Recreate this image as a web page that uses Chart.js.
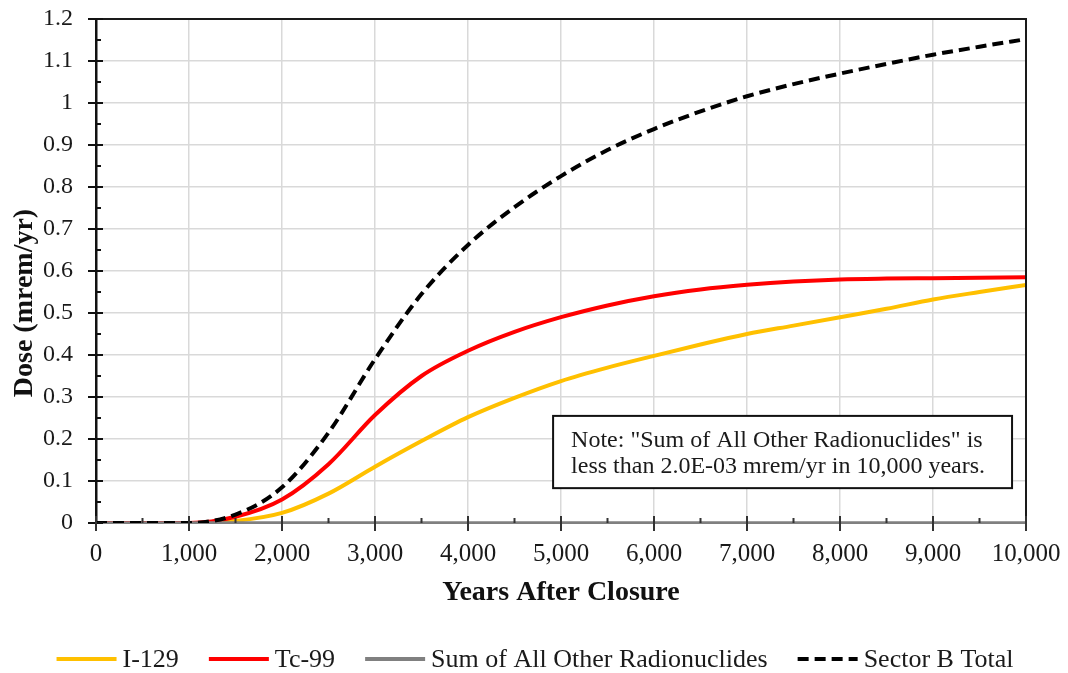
<!DOCTYPE html>
<html>
<head>
<meta charset="utf-8">
<script src="https://cdn.jsdelivr.net/npm/chart.js@4/dist/chart.umd.min.js"></script>
<style>
  html, body { margin: 0; padding: 0; background: #fff; }
</style>
</head>
<body>
<canvas id="chart" width="1068" height="673"></canvas>
<script>
// Years after closure (x values)
const years = [0, 500, 1000, 1500, 2000, 2500, 3000, 3500, 4000, 4500, 5000,
               5500, 6000, 6500, 7000, 7500, 8000, 8500, 9000, 9500, 10000];

// Dose (mrem/yr)
const i129 = [0, 0, 0, 0.005, 0.024, 0.07, 0.134, 0.195, 0.252, 0.298, 0.338,
              0.37, 0.398, 0.425, 0.45, 0.47, 0.49, 0.51, 0.532, 0.55, 0.567];
const tc99 = [0, 0, 0, 0.015, 0.056, 0.14, 0.257, 0.35, 0.41, 0.455, 0.49,
              0.518, 0.54, 0.556, 0.567, 0.575, 0.58, 0.582, 0.583, 0.584, 0.585];
const otherNuclides = [0, 0, 0, 0, 0, 0, 0, 0, 0, 0, 0,
                       0, 0, 0, 0, 0, 0, 0, 0, 0, 0];
const sectorBTotal = [0, 0, 0, 0.02, 0.085, 0.215, 0.39, 0.545, 0.662, 0.752, 0.826,
                      0.888, 0.938, 0.98, 1.016, 1.045, 1.07, 1.093, 1.115, 1.134, 1.152];

const seriesNames = ['I-129', 'Tc-99', 'Sum of All Other Radionuclides', 'Sector B Total'];
const noteLines = ['Note: "Sum of All Other Radionuclides" is',
                   'less than 2.0E-03 mrem/yr in 10,000 years.'];
const yTitle = 'Dose (mrem/yr)';
const xTitle = 'Years After Closure';

const SERIF = '"Liberation Serif", "Times New Roman", serif';

function toPoints(values) {
    return years.map((x, i) => ({ x: x, y: values[i] }));
}

// Axis decorations: border on top/right, crossing major ticks, minor ticks
const axisExtras = {
    id: 'axisExtras',
    afterDatasetsDraw(chart) {
        const { ctx, chartArea: a, scales: { x, y } } = chart;
        ctx.save();
        // top and right frame
        ctx.strokeStyle = '#1a1a1a';
        ctx.lineWidth = 2;
        ctx.beginPath();
        ctx.moveTo(a.left, a.top);
        ctx.lineTo(a.right, a.top);
        ctx.lineTo(a.right, a.bottom);
        ctx.stroke();

        // y axis ticks
        ctx.strokeStyle = '#111';
        ctx.lineWidth = 2;
        for (let v = 0; v <= 12; v++) {
            const py = y.getPixelForValue(v / 10);
            ctx.beginPath();
            ctx.moveTo(a.left - 8, py);
            ctx.lineTo(a.left + 7, py);
            ctx.stroke();
            if (v < 12) {
                const pm = y.getPixelForValue(v / 10 + 0.05);
                ctx.beginPath();
                ctx.moveTo(a.left, pm);
                ctx.lineTo(a.left + 5, pm);
                ctx.stroke();
            }
        }
        // x axis ticks
        ctx.strokeStyle = '#333';
        for (let v = 0; v <= 10000; v += 1000) {
            const px = x.getPixelForValue(v);
            ctx.beginPath();
            ctx.moveTo(px, a.bottom - 7);
            ctx.lineTo(px, a.bottom + 8);
            ctx.stroke();
            if (v < 10000) {
                const pm = x.getPixelForValue(v + 500);
                ctx.beginPath();
                ctx.moveTo(pm, a.bottom - 5);
                ctx.lineTo(pm, a.bottom);
                ctx.stroke();
            }
        }
        ctx.restore();
    }
};

// Note box, y title and legend
const annotations = {
    id: 'annotations',
    afterDraw(chart) {
        const { ctx, scales: { x, y } } = chart;
        ctx.save();

        // note box
        const bx1 = x.getPixelForValue(4915), bx2 = x.getPixelForValue(9850);
        const by1 = y.getPixelForValue(0.255), by2 = y.getPixelForValue(0.083);
        ctx.fillStyle = '#fff';
        ctx.fillRect(bx1, by1, bx2 - bx1, by2 - by1);
        ctx.strokeStyle = '#111';
        ctx.lineWidth = 2;
        ctx.strokeRect(bx1, by1, bx2 - bx1, by2 - by1);
        ctx.fillStyle = '#1a1a1a';
        ctx.font = '24px ' + SERIF;
        ctx.textAlign = 'left';
        ctx.textBaseline = 'alphabetic';
        ctx.fillText(noteLines[0], bx1 + 18, by1 + 31);
        ctx.fillText(noteLines[1], bx1 + 18, by1 + 57);

        // y axis title
        ctx.save();
        ctx.translate(25, 303);
        ctx.rotate(-Math.PI / 2);
        ctx.font = 'bold 28px ' + SERIF;
        ctx.textAlign = 'center';
        ctx.textBaseline = 'middle';
        ctx.fillStyle = '#111';
        ctx.fillText(yTitle, 0, 0);
        ctx.restore();

        // legend
        const lineLen = 60, gapText = 6, gapItem = 30;
        ctx.font = '26px ' + SERIF;
        const items = chart.data.datasets.map(ds => ({
            text: ds.label, color: ds.borderColor, dash: ds.borderDash || [],
            w: lineLen + gapText + ctx.measureText(ds.label).width
        }));
        const total = items.reduce((s, it) => s + it.w, 0) + gapItem * (items.length - 1);
        let cx = (chart.width - total) / 2 + 1;
        const ly = 659;
        items.forEach(it => {
            ctx.strokeStyle = it.color;
            ctx.lineWidth = 4;
            ctx.setLineDash(it.dash);
            ctx.beginPath();
            ctx.moveTo(cx, ly);
            ctx.lineTo(cx + lineLen, ly);
            ctx.stroke();
            ctx.setLineDash([]);
            ctx.fillStyle = '#1a1a1a';
            ctx.textAlign = 'left';
            ctx.textBaseline = 'middle';
            ctx.fillText(it.text, cx + lineLen + gapText, ly + 1);
            cx += it.w + gapItem;
        });
        ctx.restore();
    }
};

new Chart(document.getElementById('chart'), {
    type: 'line',
    data: {
        datasets: [
            { label: seriesNames[0], data: toPoints(i129), borderColor: '#FFC000', borderWidth: 4, order: 3 },
            { label: seriesNames[1], data: toPoints(tc99), borderColor: '#FF0000', borderWidth: 4, order: 2 },
            { label: seriesNames[2], data: toPoints(otherNuclides), borderColor: '#808080', borderWidth: 3.5, order: 1 },
            { label: seriesNames[3], data: toPoints(sectorBTotal), borderColor: '#000000', borderWidth: 4,
              borderDash: [11, 6], order: 0 }
        ]
    },
    options: {
        responsive: false,
        animation: false,
        events: [],
        layout: { padding: { left: 0, right: 42, top: 19, bottom: 55 } },
        elements: {
            point: { radius: 0 },
            line: { cubicInterpolationMode: 'monotone', fill: false, borderCapStyle: 'butt' }
        },
        plugins: {
            legend: { display: false },
            tooltip: { enabled: false }
        },
        scales: {
            x: {
                type: 'linear',
                min: 0,
                max: 10000,
                afterFit(scale) {
                    scale.height = 95;
                    scale.paddingLeft = 0;
                    scale.paddingRight = 0;
                },
                ticks: {
                    stepSize: 1000,
                    padding: 16,
                    color: '#1a1a1a',
                    font: { family: SERIF, size: 25 },
                    maxRotation: 0,
                    callback: v => v.toLocaleString('en-US')
                },
                grid: { color: '#d9d9d9', lineWidth: 1.5, drawTicks: false },
                border: { color: '#808080', width: 2 },
                title: {
                    display: true,
                    text: xTitle,
                    color: '#111',
                    font: { family: SERIF, size: 28, weight: 'bold' },
                    padding: { top: 0, bottom: 8 }
                }
            },
            y: {
                min: 0,
                max: 1.2,
                afterFit(scale) {
                    scale.width = 96;
                    scale.paddingTop = 0;
                    scale.paddingBottom = 0;
                },
                ticks: {
                    stepSize: 0.1,
                    padding: 23,
                    color: '#1a1a1a',
                    font: { family: SERIF, size: 24 },
                    callback: v => String(Number(v.toFixed(1)))
                },
                grid: { color: '#d9d9d9', lineWidth: 1.5, drawTicks: false },
                border: { color: '#111', width: 2.5 }
            }
        }
    },
    plugins: [axisExtras, annotations]
});
</script>
</body>
</html>
